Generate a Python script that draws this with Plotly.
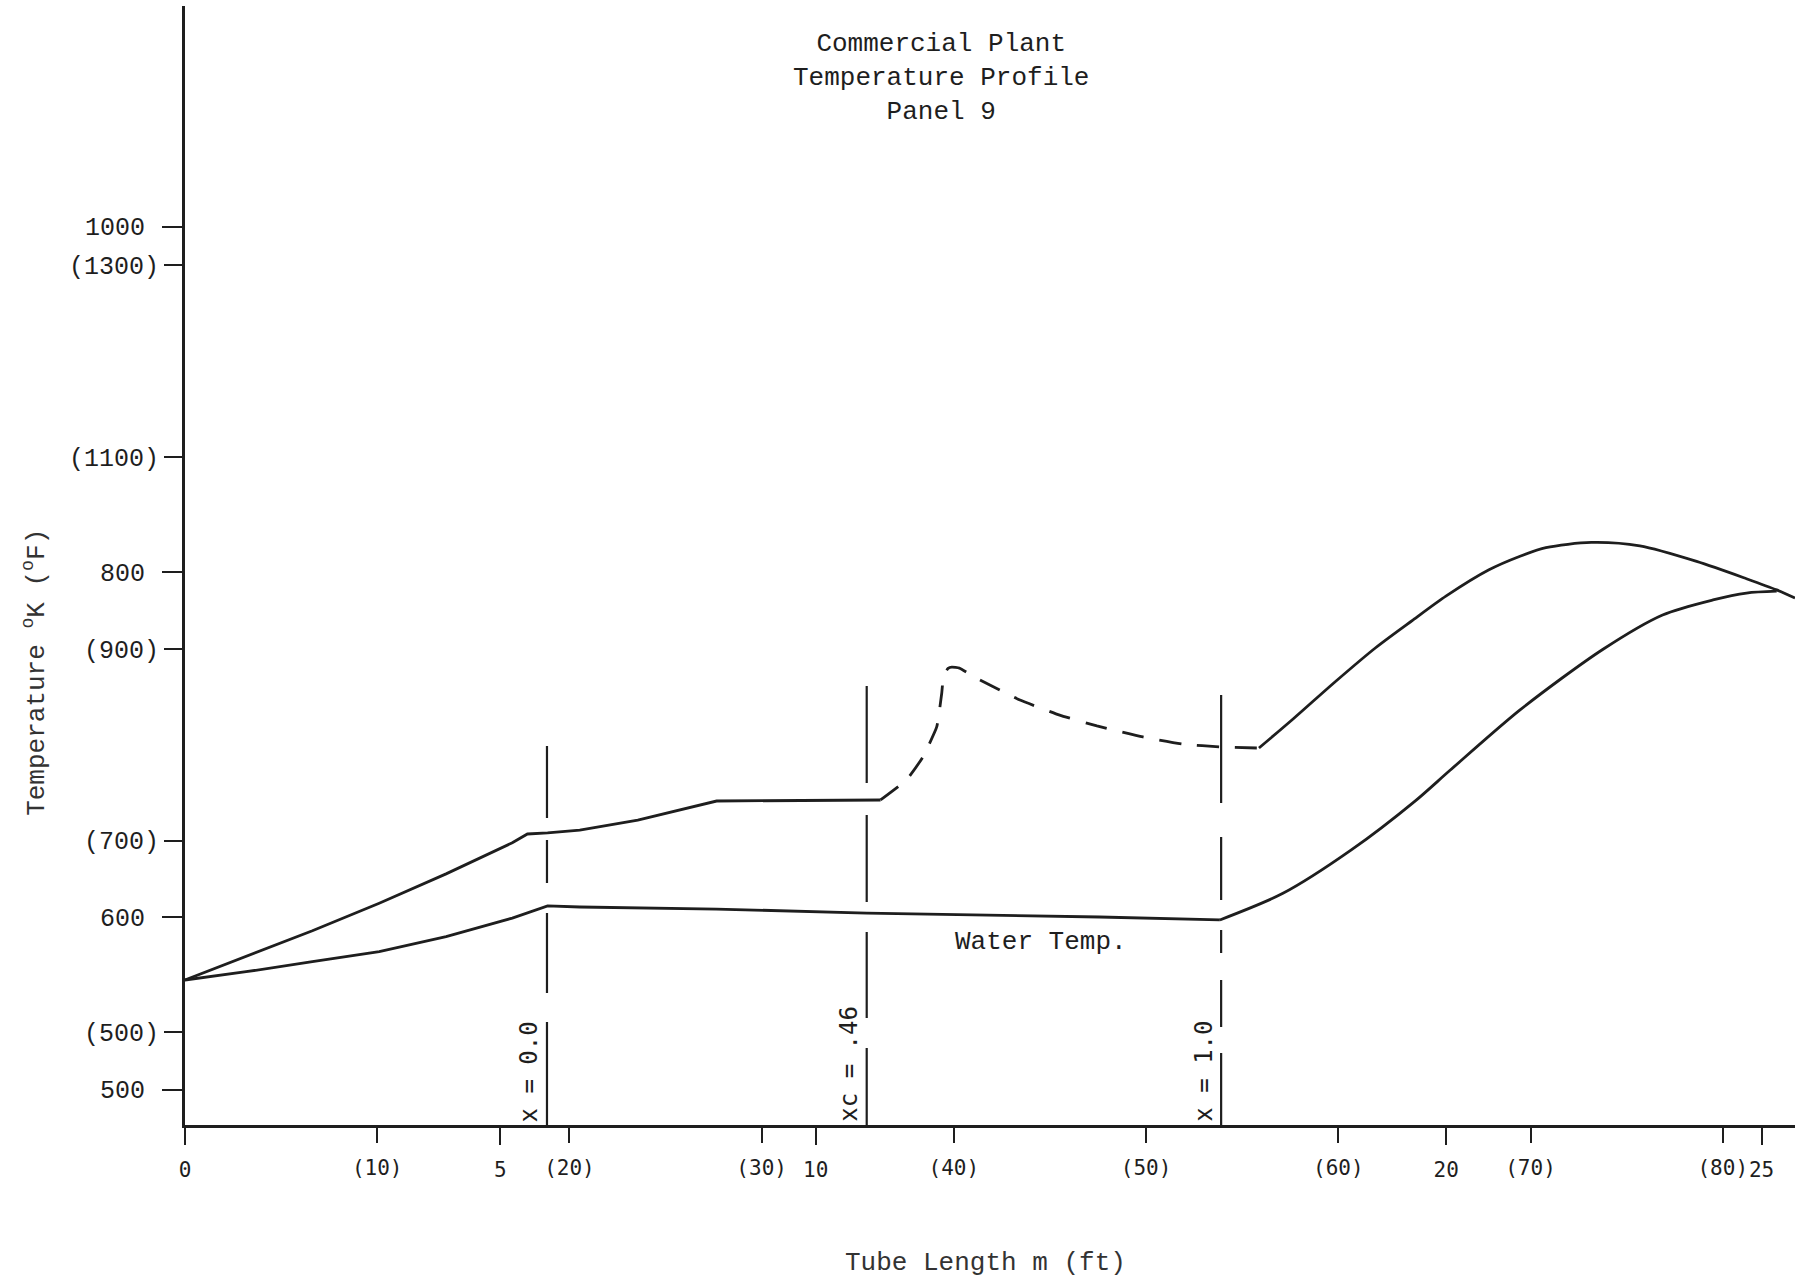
import plotly.graph_objects as go

# ---------------- data ----------------
# Tube wall temperature, solid part before xc (m, K)
wall_a_m = [0, 0.97, 2.02, 3.08, 4.14, 5.19, 5.43, 5.75, 6.26, 7.18, 8.43, 11.03]
wall_a_K = [563.5, 577.0, 592.0, 608.0, 625.0, 643.0, 648.1, 648.7, 650.4, 656.2, 667.2, 667.8]
# Tube wall temperature, dashed part (dry-out region)
wall_b_m = [11.03, 11.44, 11.70, 11.92, 12.00, 12.03, 12.10, 12.16, 12.28, 12.55, 13.24,
            13.87, 14.46, 15.19, 15.82, 16.44, 17.03]
wall_b_K = [667.8, 679.4, 692.7, 710.1, 729.8, 740.2, 744.0, 744.8, 744.2, 738.4, 725.7,
            717.0, 710.7, 704.3, 700.2, 698.5, 697.9]
# Tube wall temperature, solid superheat part
wall_c_m = [17.03, 17.58, 18.23, 18.88, 19.47, 20.00, 20.67, 21.17, 21.58, 22.30, 23.07,
            23.97, 24.76, 25.24, 25.53]
wall_c_K = [697.9, 715.0, 736.0, 756.0, 772.0, 786.0, 801.0, 809.0, 814.0, 817.0, 815.0,
            806.0, 796.0, 789.5, 784.8]
# Water temperature
water_a_m = [0, 0.97, 2.02, 3.08, 4.14, 5.19, 5.75, 6.26, 8.43, 10.81, 14.50, 16.41]
water_a_K = [563.5, 568.3, 574.1, 579.9, 588.6, 599.4, 606.4, 605.8, 604.6, 602.3, 600.0, 598.3]
water_b_m = [16.41, 17.41, 18.50, 19.50, 20.06, 21.17, 22.48, 23.43, 24.23, 24.76, 25.24]
water_b_K = [598.3, 613.7, 639.0, 667.0, 685.0, 720.0, 755.0, 775.0, 783.7, 787.7, 788.8]

# Quality markers
quality_m = [5.74, 10.81, 16.43]
quality_top_K = [699.1, 733.8, 728.6]
quality_labels = ["x = 0.0", "xc = .46", "x = 1.0"]
quality_dash = ["72px,22px,43px,30px,80px,29px,103px,20px",
                "97px,32px,87px,30px,86px,30px,80px,20px",
                "108px,34px,63px,30px,23px,27px,47px,26px,80px,20px"]

# Axis ticks
x_m_ticks = [0, 5, 10, 20, 25]
x_ft_ticks = [10, 20, 30, 40, 50, 60, 70, 80]
y_K_ticks = [500, 600, 800, 1000]
y_F_ticks = [500, 700, 900, 1100, 1300]

# Ranges
x_range_m = [0, 25.53]
y_range_K = [479.5, 1127.8]

M_TO_FT = 3.28084


def k_to_f(k):
    return (k - 273.15) * 1.8 + 32


INK = "#1e1e1e"
MONO = "Liberation Mono, Courier New, monospace"
SANSMONO = "DejaVu Sans Mono, monospace"

fig = go.Figure()

LW = 2.8
fig.add_trace(go.Scatter(x=wall_a_m, y=wall_a_K, mode="lines",
                         line=dict(color=INK, width=LW), hoverinfo="skip"))
fig.add_trace(go.Scatter(x=wall_b_m, y=wall_b_K, mode="lines",
                         line=dict(color=INK, width=LW, dash="22px,16px", shape="spline",
                                   smoothing=0.4), hoverinfo="skip"))
fig.add_trace(go.Scatter(x=wall_c_m, y=wall_c_K, mode="lines",
                         line=dict(color=INK, width=LW, shape="spline", smoothing=0.8),
                         hoverinfo="skip"))
fig.add_trace(go.Scatter(x=water_a_m, y=water_a_K, mode="lines",
                         line=dict(color=INK, width=LW), hoverinfo="skip"))
fig.add_trace(go.Scatter(x=water_b_m, y=water_b_K, mode="lines",
                         line=dict(color=INK, width=LW, shape="spline", smoothing=0.8),
                         hoverinfo="skip"))
# invisible trace to bind the secondary (ft / degF) axes
fig.add_trace(go.Scatter(x=[x_range_m[0] * M_TO_FT], y=[k_to_f(y_range_K[0])], mode="markers",
                         marker=dict(opacity=0), xaxis="x2", yaxis="y2", hoverinfo="skip"))

# quality lines and labels
for xm, top, lab, dsh in zip(quality_m, quality_top_K, quality_labels, quality_dash):
    fig.add_shape(type="line", xref="x", yref="y", x0=xm, x1=xm, y0=top, y1=y_range_K[0],
                  line=dict(color=INK, width=2.2, dash=dsh))
    fig.add_annotation(x=xm, y=y_range_K[0], xref="x", yref="y", text=lab, textangle=-90,
                       showarrow=False, xanchor="right", yanchor="bottom", xshift=-2, yshift=1,
                       font=dict(family=SANSMONO, size=24, color=INK))

# titles / labels
fig.add_annotation(x=11.98, y=1086, xref="x", yref="y",
                   text="Commercial Plant<br>Temperature Profile<br>Panel 9",
                   showarrow=False, align="center", xanchor="center", yanchor="middle",
                   font=dict(family=MONO, size=26, color=INK))
fig.add_annotation(x=12.18, y=585.5, xref="x", yref="y", text="Water Temp.", showarrow=False,
                   xanchor="left", yanchor="middle", font=dict(family=MONO, size=26, color=INK))
fig.add_annotation(x=0.497, y=-0.1233, xref="paper", yref="paper", text="Tube Length m (ft)",
                   showarrow=False, xanchor="center", yanchor="middle",
                   font=dict(family=MONO, size=26, color="#333"))
fig.add_annotation(x=-0.0932, y=742, xref="paper", yref="y",
                   text="Temperature <sup>o</sup>K (<sup>o</sup>F)", textangle=-90,
                   showarrow=False, xanchor="center", yanchor="middle",
                   font=dict(family=MONO, size=26, color="#333"))

axis_common = dict(showgrid=False, zeroline=False, ticks="outside", tickwidth=2, tickcolor=INK)

fig.update_layout(
    width=1795, height=1279,
    margin=dict(l=185, r=0, t=6, b=154),
    paper_bgcolor="white", plot_bgcolor="white",
    showlegend=False,
    xaxis=dict(range=x_range_m, tickvals=x_m_ticks, ticktext=[str(v) for v in x_m_ticks],
               ticklen=17, showline=True, linewidth=3, linecolor=INK,
               tickfont=dict(family=SANSMONO, size=21, color=INK), ticklabelstandoff=7,
               **axis_common),
    xaxis2=dict(range=[x_range_m[0] * M_TO_FT, x_range_m[1] * M_TO_FT], overlaying="x",
                side="bottom", anchor="y", tickvals=x_ft_ticks,
                ticktext=["(%d)" % v for v in x_ft_ticks], ticklen=17, showline=False,
                tickfont=dict(family=SANSMONO, size=21, color=INK), ticklabelstandoff=7,
                **axis_common),
    yaxis=dict(range=y_range_K, tickvals=y_K_ticks, ticktext=[str(v) for v in y_K_ticks],
               ticklen=20, showline=True, linewidth=3, linecolor=INK,
               tickfont=dict(family=MONO, size=25, color=INK), ticklabelstandoff=12,
               **axis_common),
    yaxis2=dict(range=[k_to_f(y_range_K[0]), k_to_f(y_range_K[1])], overlaying="y",
                side="left", anchor="x", tickvals=y_F_ticks,
                ticktext=["(%d)" % v for v in y_F_ticks], ticklen=20, showline=False,
                tickfont=dict(family=MONO, size=25, color=INK), ticklabelstandoff=0,
                **axis_common),
)

fig.write_html("out.html")
